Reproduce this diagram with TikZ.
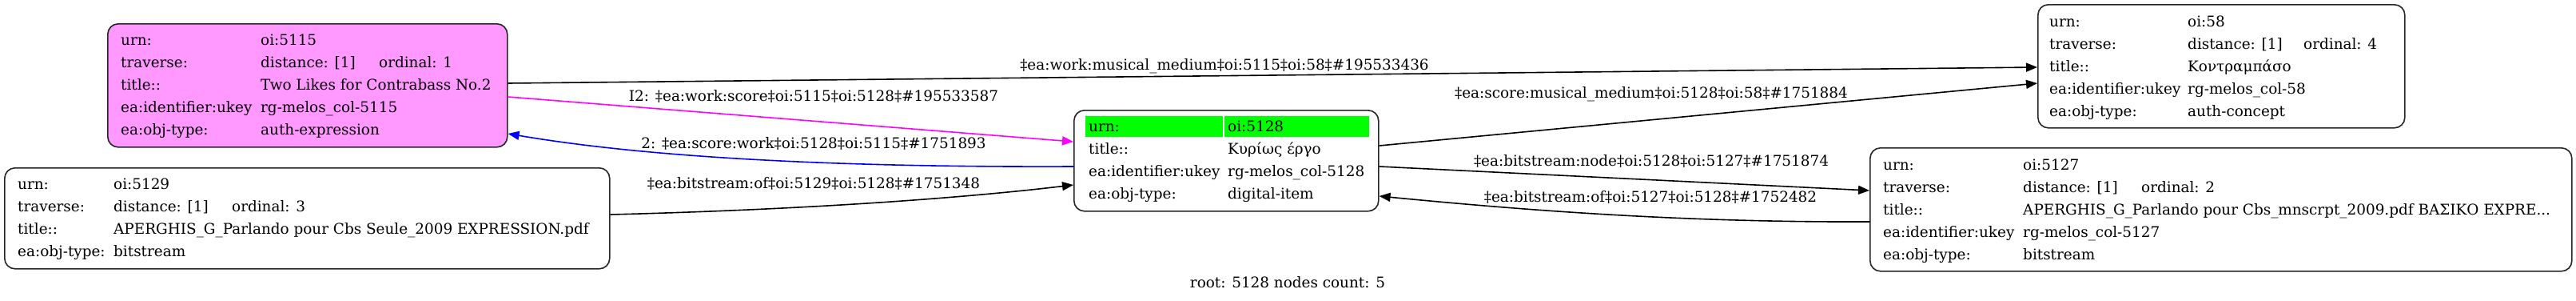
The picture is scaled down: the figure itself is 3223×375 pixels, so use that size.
\documentclass[tikz,border=0pt]{standalone}
\usepackage{fontspec}
\setmainfont{DejaVu Serif}
\usetikzlibrary{calc,arrows.meta}
\definecolor{pinkfill}{HTML}{FF99FF}
\definecolor{cellgreen}{HTML}{00FF00}
\definecolor{edgeblue}{HTML}{0000FF}
\definecolor{edgemag}{HTML}{FF00FF}
\tikzset{
  rec/.style={draw=black!85, line width=1.6pt, rounded corners=13pt, inner sep=0pt, anchor=north west},
  txt/.style={anchor=base west, inner sep=0pt, font=\fontsize{18.4}{20}\selectfont},
  lbl/.style={anchor=base, inner sep=0pt, font=\fontsize{18.4}{20}\selectfont},
  conn/.style={line width=1.6pt, -{Triangle[length=14pt,width=11pt]}},
}
\begin{document}
\begin{tikzpicture}[x=1pt,y=-1pt]
\useasboundingbox (0,0) rectangle (3223,375);
% boxes
\node[rec, fill=pinkfill, minimum width=500pt, minimum height=154pt] (n5115) at (134,29) {};
\node[rec, minimum width=757pt, minimum height=126pt] (n5129) at (5,209) {};
\node[rec, minimum width=381pt, minimum height=126pt] (n5128) at (1343,137) {};
\node[rec, minimum width=459pt, minimum height=154pt] (n58) at (2549,5) {};
\node[rec, minimum width=878pt, minimum height=154pt] (n5127) at (2339,184) {};
% green cells of root
\fill[cellgreen] ($(n5128.north west)+(15,8)$) rectangle ($(n5128.north west)+(187,34)$);
\fill[cellgreen] ($(n5128.north west)+(189,8)$) rectangle ($(n5128.north east)+(-13,34)$);
% 5115
\node[txt] (a1k) at ($(n5115.north west)+(17,27)$) {urn:};
\node[txt] (a1v) at ($(n5115.north west)+(192,27)$) {oi:5115};
\node[txt] (a2k) at ($(n5115.north west)+(17,55)$) {traverse:};
\node[txt] (a2v) at ($(n5115.north west)+(192,55)$) {distance: [1]};
\node[txt] (a2o) at ($(n5115.north west)+(340,55)$) {ordinal: 1};
\node[txt] (a3k) at ($(n5115.north west)+(17,83)$) {title::};
\node[txt] (a3v) at ($(n5115.north west)+(192,83)$) {Two Likes for Contrabass No.2};
\node[txt] (a4k) at ($(n5115.north west)+(17,111)$) {ea:identifier:ukey};
\node[txt] (a4v) at ($(n5115.north west)+(192,111)$) {rg-melos\_col-5115};
\node[txt] (a5k) at ($(n5115.north west)+(17,139)$) {ea:obj-type:};
\node[txt] (a5v) at ($(n5115.north west)+(192,139)$) {auth-expression};
% 5129
\node[txt] (b1k) at ($(n5129.north west)+(17,27)$) {urn:};
\node[txt] (b1v) at ($(n5129.north west)+(137,27)$) {oi:5129};
\node[txt] (b2k) at ($(n5129.north west)+(17,55)$) {traverse:};
\node[txt] (b2v) at ($(n5129.north west)+(137,55)$) {distance: [1]};
\node[txt] (b2o) at ($(n5129.north west)+(285,55)$) {ordinal: 3};
\node[txt] (b3k) at ($(n5129.north west)+(17,83)$) {title::};
\node[txt] (b3v) at ($(n5129.north west)+(137,83)$) {APERGHIS\_G\_Parlando pour Cbs Seule\_2009 EXPRESSION.pdf};
\node[txt] (b4k) at ($(n5129.north west)+(17,111)$) {ea:obj-type:};
\node[txt] (b4v) at ($(n5129.north west)+(137,111)$) {bitstream};
% 5128 (root)
\node[txt] (c1k) at ($(n5128.north west)+(19,27)$) {urn:};
\node[txt] (c1v) at ($(n5128.north west)+(193,27)$) {oi:5128};
\node[txt] (c2k) at ($(n5128.north west)+(19,55)$) {title::};
\node[txt] (c2v) at ($(n5128.north west)+(193,55)$) {Κυρίως έργο};
\node[txt] (c3k) at ($(n5128.north west)+(19,83)$) {ea:identifier:ukey};
\node[txt] (c3v) at ($(n5128.north west)+(193,83)$) {rg-melos\_col-5128};
\node[txt] (c4k) at ($(n5128.north west)+(19,111)$) {ea:obj-type:};
\node[txt] (c4v) at ($(n5128.north west)+(193,111)$) {digital-item};
% 58
\node[txt] (d1k) at ($(n58.north west)+(15,28)$) {urn:};
\node[txt] (d1v) at ($(n58.north west)+(188,28)$) {oi:58};
\node[txt] (d2k) at ($(n58.north west)+(15,56)$) {traverse:};
\node[txt] (d2v) at ($(n58.north west)+(188,56)$) {distance: [1]};
\node[txt] (d2o) at ($(n58.north west)+(333,56)$) {ordinal: 4};
\node[txt] (d3k) at ($(n58.north west)+(15,84)$) {title::};
\node[txt] (d3v) at ($(n58.north west)+(188,84)$) {Κοντραμπάσο};
\node[txt] (d4k) at ($(n58.north west)+(15,112)$) {ea:identifier:ukey};
\node[txt] (d4v) at ($(n58.north west)+(188,112)$) {rg-melos\_col-58};
\node[txt] (d5k) at ($(n58.north west)+(15,140)$) {ea:obj-type:};
\node[txt] (d5v) at ($(n58.north west)+(188,140)$) {auth-concept};
% 5127
\node[txt] (e1k) at ($(n5127.north west)+(17,28)$) {urn:};
\node[txt] (e1v) at ($(n5127.north west)+(192,28)$) {oi:5127};
\node[txt] (e2k) at ($(n5127.north west)+(17,56)$) {traverse:};
\node[txt] (e2v) at ($(n5127.north west)+(192,56)$) {distance: [1]};
\node[txt] (e2o) at ($(n5127.north west)+(340,56)$) {ordinal: 2};
\node[txt] (e3k) at ($(n5127.north west)+(17,84)$) {title::};
\node[txt] (e3v) at ($(n5127.north west)+(192,84)$) {APERGHIS\_G\_Parlando pour Cbs\_mnscrpt\_2009.pdf ΒΑΣΙΚΟ EXPRE...};
\node[txt] (e4k) at ($(n5127.north west)+(17,112)$) {ea:identifier:ukey};
\node[txt] (e4v) at ($(n5127.north west)+(192,112)$) {rg-melos\_col-5127};
\node[txt] (e5k) at ($(n5127.north west)+(17,140)$) {ea:obj-type:};
\node[txt] (e5v) at ($(n5127.north west)+(192,140)$) {bitstream};
% connector end points
\coordinate (p1s) at ($(n5115.north east)+(0,75)$);
\coordinate (p1e) at ($(n58.north west)+(0,79)$);
\coordinate (p2s) at ($(n5115.north east)+(0,92)$);
\coordinate (p2e) at ($(n5128.north west)+(0,40)$);
\coordinate (p3s) at ($(n5128.north west)+(0,71)$);
\coordinate (p3e) at ($(n5115.north east)+(0,138)$);
\coordinate (p4s) at ($(n5129.north east)+(0,59)$);
\coordinate (p4e) at ($(n5128.north west)+(0,94)$);
\coordinate (p5s) at ($(n5128.north east)+(0,45)$);
\coordinate (p5e) at ($(n58.north west)+(0,99)$);
\coordinate (p6s) at ($(n5128.north east)+(0,71)$);
\coordinate (p6e) at ($(n5127.north west)+(0,54)$);
\coordinate (p7s) at ($(n5127.north west)+(0,93)$);
\coordinate (p7e) at ($(n5128.north east)+(0,108)$);
% connectors
\draw[conn] (p1s) -- (p1e);
\draw[conn, edgemag] (p2s) -- (p2e);
\draw[conn, edgeblue] (p3s) .. controls ($(p3s)+(-243,1)$) and ($(p3e)+(200,34)$) .. (p3e);
\draw[conn] (p4s) .. controls ($(p4s)+(238,-6)$) and ($(p4e)+(-143,17)$) .. (p4e);
\draw[conn] (p5s) -- (p5e);
\draw[conn] (p6s) -- (p6e);
\draw[conn] (p7s) .. controls ($(p7s)+(-239,1)$) and ($(p7e)+(176,17)$) .. (p7e);
% connector labels
\node[lbl] (l1) at (1532,87) {‡ea:work:musical\_medium‡oi:5115‡oi:58‡\#195533436};
\node[lbl] (l2) at (1018,126) {I2: ‡ea:work:score‡oi:5115‡oi:5128‡\#195533587};
\node[lbl] (l3) at (1018,185) {2: ‡ea:score:work‡oi:5128‡oi:5115‡\#1751893};
\node[lbl] (l4) at (1018,235) {‡ea:bitstream:of‡oi:5129‡oi:5128‡\#1751348};
\node[lbl] (l5) at (2066,122) {‡ea:score:musical\_medium‡oi:5128‡oi:58‡\#1751884};
\node[lbl] (l6) at (2066,207) {‡ea:bitstream:node‡oi:5128‡oi:5127‡\#1751874};
\node[lbl] (l7) at (2065,252) {‡ea:bitstream:of‡oi:5127‡oi:5128‡\#1752482};
% footer
\node[lbl] (foot) at (1611,359) {root: 5128 nodes count: 5};
\end{tikzpicture}
\end{document}
